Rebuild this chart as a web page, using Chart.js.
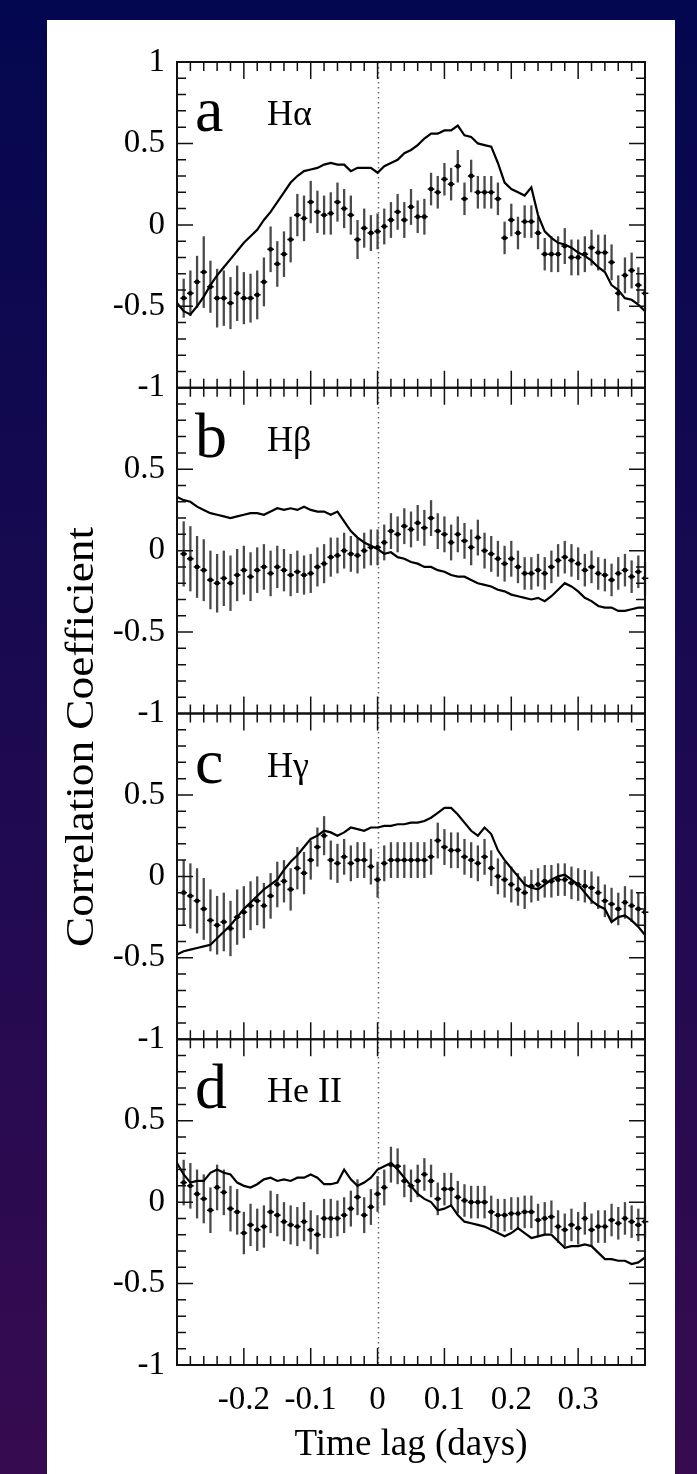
<!DOCTYPE html>
<html><head><meta charset="utf-8">
<script src="https://cdn.jsdelivr.net/npm/chart.js@4.4.1/dist/chart.umd.min.js"></script>
<style>
html,body{margin:0;padding:0;}
body{width:697px;height:1474px;background:linear-gradient(to bottom,#03074f 0%,#1c0a51 50%,#370b50 100%);position:relative;overflow:hidden;}
#card{position:absolute;left:47px;top:20px;width:628px;height:1454px;background:#fff;}
#c{position:absolute;left:0;top:0;}
</style></head><body><div id="card"></div><canvas id="c" width="697" height="1474"></canvas>
<script>
// ---------------- DATA ----------------
const lineLag = [-0.30,-0.29,-0.28,-0.27,-0.26,-0.25,-0.24,-0.23,-0.22,-0.21,
 -0.20,-0.19,-0.18,-0.17,-0.16,-0.15,-0.14,-0.13,-0.12,-0.11,
 -0.10,-0.09,-0.08,-0.07,-0.06,-0.05,-0.04,-0.03,-0.02,-0.01,
 0.00,
 0.01,0.02,0.03,0.04,0.05,0.06,0.07,0.08,0.09,0.10,
 0.11,0.12,0.13,0.14,0.15,0.16,0.17,0.18,0.19,0.20,
 0.21,0.22,0.23,0.24,0.25,0.26,0.27,0.28,0.29,0.30,
 0.31,0.32,0.33,0.34,0.35,0.36,0.37,0.38,0.39,0.40];
const pointLag = [-0.29,-0.28,-0.27,-0.26,-0.25,-0.24,-0.23,-0.22,-0.21,-0.20,
 -0.19,-0.18,-0.17,-0.16,-0.15,-0.14,-0.13,-0.12,-0.11,-0.10,
 -0.09,-0.08,-0.07,-0.06,-0.05,-0.04,-0.03,-0.02,-0.01,0.00,
 0.01,0.02,0.03,0.04,0.05,0.06,0.07,0.08,0.09,0.10,
 0.11,0.12,0.13,0.14,0.15,0.16,0.17,0.18,0.19,0.20,
 0.21,0.22,0.23,0.24,0.25,0.26,0.27,0.28,0.29,0.30,
 0.31,0.32,0.33,0.34,0.35,0.36,0.37,0.38,0.39,0.40];

// Panel a: H-alpha
const aLine = [-0.48,-0.53,-0.55,-0.50,-0.44,-0.37,-0.31,-0.26,-0.21,-0.16,
 -0.11,-0.07,-0.03,0.03,0.08,0.14,0.20,0.26,0.30,0.33,
 0.34,0.35,0.37,0.38,0.37,0.37,0.33,0.35,0.35,0.35,
 0.32,
 0.36,0.38,0.40,0.44,0.46,0.49,0.53,0.56,0.56,0.58,
 0.58,0.61,0.55,0.54,0.50,0.49,0.48,0.38,0.26,0.22,
 0.20,0.18,0.23,0.06,-0.04,-0.08,-0.11,-0.12,-0.14,-0.17,
 -0.19,-0.22,-0.26,-0.29,-0.37,-0.40,-0.45,-0.46,-0.49,-0.53];
const aPts = [-0.45,-0.42,-0.35,-0.29,-0.38,-0.45,-0.45,-0.48,-0.42,-0.45,
 -0.45,-0.43,-0.35,-0.15,-0.24,-0.18,-0.09,0.06,0.04,0.14,
 0.08,0.06,0.07,0.14,0.10,0.06,-0.09,-0.02,-0.05,-0.04,
 -0.01,0.03,0.08,0.03,0.11,0.05,0.05,0.22,0.20,0.28,
 0.25,0.36,0.16,0.30,0.20,0.20,0.20,0.16,-0.08,0.03,
 -0.05,0.02,0.02,-0.05,-0.18,-0.18,-0.18,-0.13,-0.20,-0.20,
 -0.18,-0.14,-0.17,-0.17,-0.23,-0.42,-0.31,-0.28,-0.37,-0.42];
const aErr = [0.12,0.14,0.16,0.22,0.16,0.18,0.17,0.16,0.17,0.16,
 0.15,0.15,0.15,0.14,0.14,0.14,0.14,0.13,0.14,0.13,
 0.13,0.12,0.13,0.12,0.12,0.12,0.12,0.12,0.11,0.11,
 0.11,0.11,0.11,0.11,0.11,0.10,0.11,0.10,0.10,0.10,
 0.10,0.10,0.10,0.10,0.10,0.10,0.10,0.10,0.10,0.10,
 0.10,0.10,0.10,0.10,0.10,0.11,0.11,0.11,0.11,0.11,
 0.11,0.11,0.11,0.11,0.11,0.11,0.11,0.11,0.11,0.11];

// Panel b: H-beta
const bLine = [0.33,0.31,0.30,0.27,0.25,0.23,0.22,0.21,0.20,0.21,
 0.22,0.23,0.23,0.22,0.24,0.26,0.25,0.26,0.25,0.27,
 0.25,0.24,0.24,0.22,0.24,0.18,0.12,0.08,0.05,0.03,
 0.01,
 -0.02,-0.01,-0.04,-0.05,-0.07,-0.08,-0.10,-0.10,-0.12,-0.13,
 -0.15,-0.16,-0.16,-0.18,-0.20,-0.21,-0.22,-0.24,-0.25,-0.27,
 -0.28,-0.29,-0.30,-0.29,-0.31,-0.28,-0.24,-0.20,-0.22,-0.25,
 -0.29,-0.31,-0.34,-0.35,-0.35,-0.37,-0.37,-0.36,-0.35,-0.35];
const bPts = [-0.02,-0.05,-0.10,-0.12,-0.18,-0.20,-0.17,-0.20,-0.15,-0.12,
 -0.16,-0.12,-0.10,-0.14,-0.10,-0.12,-0.15,-0.13,-0.15,-0.14,
 -0.10,-0.08,-0.04,-0.03,0.00,-0.02,-0.03,0.00,0.02,0.02,
 0.05,0.12,0.10,0.15,0.13,0.17,0.14,0.20,0.12,0.10,
 0.05,0.10,0.06,0.02,0.08,0.00,-0.02,-0.05,-0.08,-0.05,
 -0.10,-0.14,-0.14,-0.12,-0.14,-0.10,-0.06,-0.04,-0.06,-0.08,
 -0.12,-0.10,-0.14,-0.15,-0.18,-0.14,-0.12,-0.16,-0.13,-0.17];
const bErr = [0.20,0.20,0.19,0.19,0.18,0.18,0.17,0.17,0.16,0.15,
 0.15,0.14,0.14,0.14,0.13,0.13,0.13,0.13,0.12,0.12,
 0.12,0.12,0.12,0.11,0.11,0.11,0.11,0.11,0.11,0.11,
 0.11,0.11,0.11,0.11,0.11,0.11,0.11,0.11,0.11,0.11,
 0.11,0.11,0.11,0.11,0.11,0.11,0.11,0.11,0.11,0.11,
 0.10,0.10,0.10,0.10,0.10,0.10,0.10,0.10,0.10,0.10,
 0.10,0.10,0.10,0.10,0.10,0.10,0.10,0.10,0.10,0.10];

// Panel c: H-gamma
const cLine = [-0.48,-0.46,-0.45,-0.44,-0.43,-0.42,-0.38,-0.34,-0.30,-0.25,
 -0.20,-0.16,-0.12,-0.08,-0.05,-0.02,0.04,0.09,0.13,0.18,
 0.23,0.25,0.28,0.27,0.25,0.27,0.30,0.29,0.28,0.30,
 0.30,
 0.31,0.31,0.32,0.32,0.33,0.33,0.34,0.36,0.39,0.42,
 0.42,0.38,0.33,0.28,0.25,0.30,0.26,0.16,0.10,0.05,
 0.00,-0.05,-0.07,-0.08,-0.05,-0.02,0.00,0.01,-0.02,-0.05,
 -0.10,-0.15,-0.18,-0.20,-0.28,-0.25,-0.24,-0.27,-0.31,-0.36];
const cPts = [-0.10,-0.12,-0.15,-0.20,-0.27,-0.30,-0.28,-0.32,-0.25,-0.22,
 -0.18,-0.15,-0.18,-0.12,-0.05,-0.03,-0.08,0.05,0.02,0.10,
 0.18,0.25,0.10,0.08,0.12,0.08,0.10,0.10,0.06,-0.02,
 0.08,0.10,0.10,0.10,0.10,0.10,0.10,0.12,0.22,0.18,
 0.16,0.16,0.12,0.10,0.08,0.12,0.05,0.00,-0.02,-0.05,
 -0.08,-0.10,-0.06,-0.05,-0.03,-0.03,-0.02,-0.02,-0.04,-0.05,
 -0.06,-0.07,-0.10,-0.15,-0.17,-0.20,-0.16,-0.18,-0.20,-0.22];
const cErr = [0.20,0.20,0.20,0.19,0.19,0.18,0.18,0.17,0.17,0.16,
 0.15,0.15,0.14,0.14,0.14,0.13,0.13,0.13,0.13,0.12,
 0.12,0.12,0.12,0.12,0.11,0.11,0.11,0.11,0.11,0.11,
 0.11,0.11,0.11,0.11,0.11,0.11,0.11,0.11,0.11,0.11,
 0.11,0.11,0.11,0.11,0.11,0.11,0.11,0.11,0.11,0.11,
 0.10,0.10,0.10,0.10,0.10,0.10,0.10,0.10,0.10,0.10,
 0.10,0.10,0.10,0.10,0.10,0.10,0.10,0.10,0.10,0.10];

// Panel d: He II
const dLine = [0.24,0.17,0.12,0.13,0.13,0.18,0.20,0.18,0.17,0.12,
 0.10,0.09,0.11,0.14,0.15,0.13,0.14,0.13,0.15,0.15,
 0.17,0.15,0.11,0.11,0.12,0.20,0.14,0.10,0.12,0.15,
 0.20,
 0.22,0.24,0.20,0.15,0.10,0.05,0.02,0.00,-0.05,-0.04,
 -0.02,-0.08,-0.12,-0.13,-0.14,-0.15,-0.17,-0.19,-0.21,-0.19,
 -0.16,-0.19,-0.22,-0.21,-0.20,-0.20,-0.24,-0.28,-0.27,-0.27,
 -0.26,-0.27,-0.31,-0.35,-0.35,-0.36,-0.36,-0.38,-0.37,-0.34];
const dPts = [0.12,0.10,0.05,0.02,-0.05,0.09,0.06,-0.04,-0.06,-0.19,
 -0.14,-0.17,-0.15,-0.06,-0.08,-0.12,-0.14,-0.15,-0.12,-0.17,
 -0.20,-0.10,-0.10,-0.10,-0.08,-0.04,0.03,-0.08,-0.03,0.05,
 0.09,0.23,0.22,0.13,0.10,0.13,0.17,0.13,0.02,0.08,
 0.08,0.03,0.01,0.00,0.00,0.00,-0.06,-0.08,-0.08,-0.07,
 -0.07,-0.06,-0.06,-0.11,-0.10,-0.09,-0.15,-0.17,-0.14,-0.16,
 -0.10,-0.17,-0.15,-0.15,-0.11,-0.13,-0.10,-0.12,-0.14,-0.12];
const dErr = [0.14,0.14,0.15,0.15,0.14,0.14,0.14,0.14,0.14,0.13,
 0.13,0.13,0.13,0.13,0.13,0.12,0.12,0.12,0.12,0.12,
 0.12,0.12,0.12,0.11,0.11,0.11,0.11,0.11,0.11,0.11,
 0.11,0.11,0.11,0.10,0.10,0.10,0.10,0.10,0.10,0.10,
 0.10,0.10,0.10,0.10,0.10,0.10,0.10,0.10,0.10,0.10,
 0.10,0.10,0.10,0.10,0.10,0.10,0.10,0.10,0.10,0.10,
 0.10,0.10,0.10,0.10,0.10,0.10,0.10,0.10,0.10,0.10];

const panelIds = ['ya','yb','yc','yd'];
const panelLetters = ['a','b','c','d'];
const panelLines = ['H\u03B1','H\u03B2','H\u03B3','He II'];
const xTickVals = [-0.2,-0.1,0,0.1,0.2,0.3];
const xTickLabels = ['-0.2','-0.1','0','0.1','0.2','0.3'];
const yTickValsTop = [1,0.5,0,-0.5,-1];
const yTickLabelsTop = ['1','0.5','0','-0.5','-1'];
const yTickVals = [0.5,0,-0.5,-1];
const yTickLabels = ['0.5','0','-0.5','-1'];
const xTitle = 'Time lag (days)';
const yTitle = 'Correlation Coefficient';

// ---------------- CHART ----------------
const SERIF = "'Liberation Serif','Times New Roman',serif";
const lines = [aLine,bLine,cLine,dLine];
const pts = [aPts,bPts,cPts,dPts];
const errs = [aErr,bErr,cErr,dErr];
const datasets = [];
panelIds.forEach((id,k)=>{
  datasets.push({
    type:'line', yAxisID:id, xAxisID:'x',
    data: lineLag.map((x,i)=>({x, y: lines[k][i]})),
    borderColor:'#000', borderWidth:2.2, pointRadius:0, tension:0, fill:false
  });
  datasets.push({
    type:'line', showLine:false, yAxisID:id, xAxisID:'x',
    data: pointLag.map((x,i)=>({x, y: pts[k][i]})),
    errors: errs[k],
    pointRadius:2.4, pointBackgroundColor:'#000', pointBorderWidth:0, borderColor:'#000'
  });
});

function yScale(id, k){
  const top = k===0;
  return {
    type:'linear', position:'left', stack:'panels', stackWeight:1, weight:4-k,
    min:-1, max:1,
    grid:{display:false, drawTicks:false}, border:{display:false},
    ticks:{ padding:12, color:'#000', autoSkip:false, font:{family:SERIF, size:33},
      callback:(v,i)=> (top?yTickLabelsTop:yTickLabels)[i] },
    afterBuildTicks: s => { s.ticks = (top?yTickValsTop:yTickVals).map(v=>({value:v})); },
    afterFit: s => { s.width = 177; }
  };
}
const scales = {
  x:{ type:'linear', position:'bottom', min:-0.3, max:0.4,
    grid:{display:false, drawTicks:false}, border:{display:false},
    ticks:{ padding:16, color:'#000', autoSkip:false, maxRotation:0, font:{family:SERIF, size:33},
      callback:(v,i)=> xTickLabels[i] },
    afterBuildTicks: s => { s.ticks = xTickVals.map(v=>({value:v})); },
    afterFit: s => { s.height = 109; }
  }
};
panelIds.forEach((id,k)=>{ scales[id] = yScale(id,k); });

const decor = {
  id:'decor',
  beforeDatasetsDraw(chart){
    const ctx = chart.ctx, xs = chart.scales.x, ca = chart.chartArea;
    ctx.save();
    // zero-lag dotted line
    ctx.strokeStyle = '#666'; ctx.lineWidth = 1.5; ctx.setLineDash([1.5,3.5]);
    const x0 = Math.round(xs.getPixelForValue(0)) + 0.5;
    ctx.beginPath(); ctx.moveTo(x0, ca.top); ctx.lineTo(x0, ca.bottom); ctx.stroke();
    ctx.setLineDash([]);
    // error bars
    chart.data.datasets.forEach((ds,i)=>{
      if(!ds.errors) return;
      const meta = chart.getDatasetMeta(i), ys = chart.scales[ds.yAxisID];
      meta.data.forEach((el,j)=>{
        const d = ds.data[j], e = ds.errors[j];
        ctx.strokeStyle = '#4a4a4a'; ctx.lineWidth = 2.3;
        ctx.beginPath(); ctx.moveTo(el.x, ys.getPixelForValue(d.y+e)); ctx.lineTo(el.x, ys.getPixelForValue(d.y-e)); ctx.stroke();
        ctx.strokeStyle = '#000'; ctx.lineWidth = 1.5;
        ctx.beginPath(); ctx.moveTo(xs.getPixelForValue(d.x-0.005), el.y); ctx.lineTo(xs.getPixelForValue(d.x+0.005), el.y); ctx.stroke();
      });
    });
    ctx.restore();
  },
  afterDraw(chart){
    const ctx = chart.ctx, xs = chart.scales.x, ca = chart.chartArea;
    ctx.save();
    panelIds.forEach((id,k)=>{
      const s = chart.scales[id];
      const T = s.top, B = s.bottom, L = ca.left, R = ca.right;
      ctx.strokeStyle = '#111'; ctx.lineWidth = 2;
      ctx.strokeRect(L, T, R-L, B-T);
      ctx.lineWidth = 1.5;
      ctx.beginPath();
      for(let i=-9;i<=9;i++){
        const y = s.getPixelForValue(i/10);
        const len = (i%5===0) ? 16 : 9;
        ctx.moveTo(L, y); ctx.lineTo(L+len, y);
        ctx.moveTo(R, y); ctx.lineTo(R-len, y);
      }
      for(let i=-14;i<=19;i++){
        const x = xs.getPixelForValue(i/50);
        const len = (i%5===0) ? 17 : 9;
        ctx.moveTo(x, T); ctx.lineTo(x, T+len);
        ctx.moveTo(x, B); ctx.lineTo(x, B-len);
      }
      ctx.stroke();
      // panel labels
      ctx.fillStyle = '#000'; ctx.textAlign = 'left'; ctx.textBaseline = 'alphabetic';
      ctx.font = '64px ' + SERIF;
      ctx.fillText(panelLetters[k], 195, T + 69);
      ctx.font = '36px ' + SERIF;
      ctx.fillText(panelLines[k], 267, T + 63);
    });
    // axis titles
    ctx.fillStyle = '#000';
    ctx.font = '37px ' + SERIF; ctx.textAlign = 'center'; ctx.textBaseline = 'alphabetic';
    ctx.fillText(xTitle, (ca.left+ca.right)/2, 1455);
    ctx.translate(93, 737); ctx.rotate(-Math.PI/2); ctx.scale(1.16, 1);
    ctx.font = '39px ' + SERIF;
    ctx.fillText(yTitle, 0, 0);
    ctx.restore();
  }
};

new Chart(document.getElementById('c'), {
  type:'line',
  data:{ datasets },
  options:{
    responsive:false, animation:false, devicePixelRatio:1,
    layout:{ padding:{ top:62, right:52, left:0, bottom:0 } },
    plugins:{ legend:{display:false}, tooltip:{enabled:false} },
    scales
  },
  plugins:[decor]
});
</script></body></html>
